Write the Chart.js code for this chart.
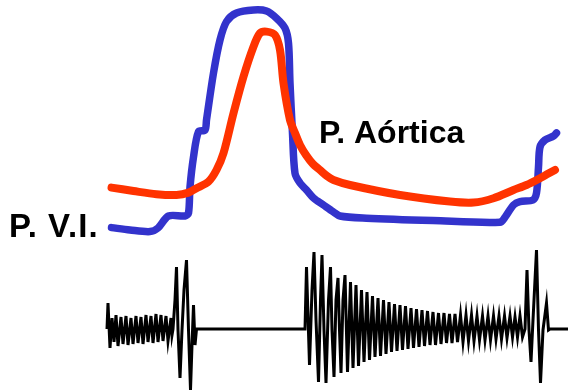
<!DOCTYPE html>
<html>
<head>
<meta charset="utf-8">
<script src="https://cdn.jsdelivr.net/npm/chart.js@4.4.1/dist/chart.umd.min.js"></script>
<style>
  html, body { margin: 0; padding: 0; background: #ffffff; }
  #wrap { width: 577px; height: 391px; position: relative; }
  canvas { display: block; }
</style>
</head>
<body>
<div id="wrap"><canvas id="c" width="577" height="391"></canvas></div>
<script>
// ---- Data (time in ms, pressure in mmHg, sound amplitude in arbitrary units) ----
const lvTime = [7, 44, 84, 100, 121, 154, 161, 164, 171, 181, 194, 197, 211, 224, 237, 257, 291, 317, 337, 354, 361, 364, 369, 374, 384, 397, 411, 431, 450, 464, 517, 650, 784, 794, 811, 824, 850, 857, 861, 864, 874, 891, 897];
const lvPressure = [3.7, 2.5, 1.7, 3.5, 9.5, 9.5, 11, 24, 39, 51.7, 52.5, 57.5, 81, 97.5, 106.7, 111, 112.5, 112, 108.4, 103.4, 95.9, 75.9, 50.9, 30.9, 26, 22.5, 18.5, 15, 11.7, 9.5, 8.4, 7.2, 6.4, 8.9, 15, 16.7, 17.5, 21, 34, 44, 47.5, 49.5, 51];

const aoTime = [7, 51, 97, 137, 161, 177, 201, 217, 231, 251, 271, 291, 304, 317, 334, 344, 351, 364, 374, 384, 396, 410, 424, 438, 451, 484, 584, 684, 731, 771, 811, 837, 864, 894];
const aoPressure = [23.7, 22, 20.4, 20, 21.2, 23.4, 26.7, 32.5, 40.9, 60.9, 79.2, 94.2, 100.9, 101.7, 100, 92.5, 75.9, 57.5, 51, 45, 40, 35.5, 32.5, 29.5, 27.5, 25, 20, 16.7, 16.2, 18.4, 22.5, 25, 28.4, 32.5];

const soundTime = [
  -2, 0, 4, 8, 12, 16, 20, 26, 30, 36, 40, 46, 50, 56, 60, 66, 70, 76, 80, 86, 90, 96, 100, 106, 110, 116, 120, 126, 128,
  130, 134, 137, 140, 144, 148, 152, 157, 161, 165, 168, 171, 174, 177,
  392,
  394, 397, 403, 408, 412, 416, 421, 425, 428, 432, 436, 441, 445, 448, 452, 456, 460, 463, 466, 470, 474,
  479, 485, 490, 496, 501, 507, 512, 518, 523, 529, 534, 540, 545, 551, 556, 562, 567, 573, 578, 584, 589, 595, 600,
  606, 611, 617, 622, 628, 633, 639, 644, 650, 655, 661, 666, 672, 677, 683, 688, 694, 699, 705, 710, 716, 721,
  727, 732, 738, 743, 749, 754, 760, 765, 771, 776, 782, 787, 793, 798, 804, 809, 814, 819, 824, 829, 834,
  838, 842, 846, 850, 857, 861, 865, 870, 877, 881, 884, 920
];
const soundAmp = [
  0, 26, -19, 11, -13, 14, -17, 12, -15, 13, -16, 11, -15, 13, -14, 12, -15, 14, -13, 13, -14, 15, -13, 14, -12, 13, -12, 11, -6,
  0, 29, 62, -1, -49, -1, 39, 69, -1, -61, -16, 24, -16, 0,
  0,
  0, 62, -36, 39, 77, 9, -53, 29, 74, -1, -54, 29, 62, -1, -48, 29, 51, -1, -44, 29, 54,
  -43, 47, -39, 44, -37, 39, -33, 37, -31, 33, -28, 31, -27, 29, -25, 27, -23, 25, -22, 24, -21, 23, -20,
  21, -19, 20, -18, 19, -17, 18, -16, 17, -16, 16, -15, 16, -14, 15, -14, 15, -13, 14, -13, 14, -12,
  14, -12, 13, -11, 13, -11, 13, -11, 13, -10, 13, -10, 13, -9, 13, -8, 12, -8, 13, -8, 0,
  59, -1, -33, 9, 79, -1, -54, -1, 26, -1, 0, 0
];

const labelLV = 'P. V.I.';
const labelAo = 'P. Aórtica';

// ---- Build datasets ----
const toXY = (xs, ys) => xs.map((x, i) => ({ x: x, y: ys[i] }));

const textPlugin = {
  id: 'labels',
  afterDatasetsDraw(chart) {
    const ctx = chart.ctx;
    ctx.save();
    ctx.fillStyle = '#000000';
    ctx.textBaseline = 'alphabetic';
    ctx.textAlign = 'left';
    ctx.font = 'bold 32px "Liberation Sans", Arial, sans-serif';
    ctx.fillText(labelAo, 319, 143);
    ctx.font = 'bold 33px "Liberation Sans", Arial, sans-serif';
    if ('letterSpacing' in ctx) ctx.letterSpacing = '1px';
    ctx.fillText(labelLV, 9, 237);
    ctx.restore();
  }
};

new Chart(document.getElementById('c'), {
  type: 'line',
  data: {
    datasets: [
      {
        label: 'P. Aórtica',
        data: toXY(aoTime, aoPressure),
        yAxisID: 'yP',
        borderColor: '#ff3300',
        borderWidth: 8,
        tension: 0.3,
        borderCapStyle: 'round',
        borderJoinStyle: 'round',
        pointRadius: 0,
        fill: false,
        clip: false,
        order: 0
      },
      {
        label: 'P. V.I.',
        data: toXY(lvTime, lvPressure),
        yAxisID: 'yP',
        borderColor: '#3333cc',
        borderWidth: 7.5,
        tension: 0.3,
        borderCapStyle: 'round',
        borderJoinStyle: 'round',
        pointRadius: 0,
        fill: false,
        clip: false,
        order: 1
      },
      {
        label: 'Fonocardiograma',
        data: toXY(soundTime, soundAmp),
        yAxisID: 'yS',
        borderColor: '#000000',
        borderWidth: 3,
        tension: 0,
        borderJoinStyle: 'miter',
        pointRadius: 0,
        fill: false,
        clip: false,
        order: 2
      }
    ]
  },
  options: {
    responsive: false,
    animation: false,
    devicePixelRatio: 1,
    layout: { padding: 0 },
    plugins: { legend: { display: false }, tooltip: { enabled: false } },
    scales: {
      x: { type: 'linear', min: -216, max: 938, display: false },
      yP: { type: 'linear', min: -78, max: 117.5, display: false },
      yS: { type: 'linear', min: -62, max: 329, display: false }
    }
  },
  plugins: [textPlugin]
});
</script>
</body>
</html>
